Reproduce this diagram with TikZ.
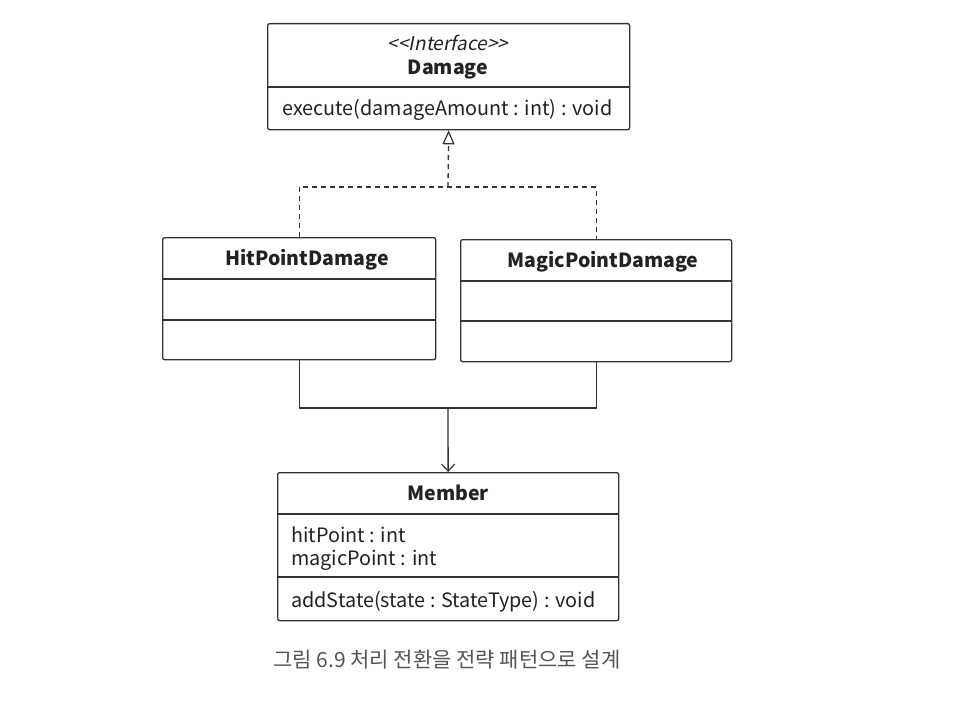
\documentclass[tikz,border=0pt]{standalone}
\usepackage{fontspec}
\setmainfont{Noto Sans CJK KR}[ItalicFont={Noto Sans CJK KR},ItalicFeatures={FakeSlant=0.2}]
\usetikzlibrary{arrows.meta}
\definecolor{linec}{HTML}{333333}
\definecolor{txt}{HTML}{222222}
\definecolor{capc}{HTML}{555555}
\begin{document}
\begin{tikzpicture}[x=1pt,y=-1pt,
  box/.style={draw=linec, line width=1.3pt, rounded corners=2pt, inner sep=0pt, anchor=north west, fill=white},
  sep/.style={draw=linec, line width=1.2pt},
  title/.style={font=\fontsize{19.5}{22}\selectfont\bfseries, text=txt, inner sep=0pt, anchor=base},
  stereo/.style={font=\fontsize{19}{22}\selectfont\itshape, text=txt, inner sep=0pt, anchor=base},
  member/.style={font=\fontsize{19.8}{22}\selectfont, text=txt, inner sep=0pt, anchor=base west},
  conn/.style={draw=linec, line width=1.3pt},
  dashconn/.style={conn, dash pattern=on 5pt off 4pt}
]
\useasboundingbox[fill=white] (0,0) rectangle (976,706);

% Damage interface
\node[box, minimum width=362pt, minimum height=106pt] (dmg) at (267,23) {};
\draw[sep] (dmg.west |- 0,87) -- (dmg.east |- 0,87);
\node[stereo] (dmgst) at (448,51) {<\kern0pt<Interface>\kern0pt>};
\node[title] (dmgt) at (448,75) {Damage};
\node[member] (dmgm) at (282,116) {execute(damageAmount : int) : void};

% HitPointDamage
\node[box, minimum width=273pt, minimum height=122pt] (hpd) at (162,237) {};
\draw[sep] (hpd.west |- 0,279) -- (hpd.east |- 0,279);
\draw[sep] (hpd.west |- 0,320) -- (hpd.east |- 0,320);
\node[title] (hpdt) at (307,265) {HitPointDamage};

% MagicPointDamage
\node[box, minimum width=271pt, minimum height=122pt] (mpd) at (460,239) {};
\draw[sep] (mpd.west |- 0,281) -- (mpd.east |- 0,281);
\draw[sep] (mpd.west |- 0,321) -- (mpd.east |- 0,321);
\node[title] (mpdt) at (603,267) {MagicPointDamage};

% Member
\node[box, minimum width=341pt, minimum height=148pt] (mem) at (277,472) {};
\draw[sep] (mem.west |- 0,514) -- (mem.east |- 0,514);
\draw[sep] (mem.west |- 0,577) -- (mem.east |- 0,577);
\node[title] (memt) at (448,500) {Member};
\node[member] (mema) at (291,542) {hitPoint : int};
\node[member] (memb) at (291,565) {magicPoint : int};
\node[member] (memc) at (291,607) {addState(state : StateType) : void};

% connectors
\coordinate (j1) at (448,187);
\coordinate (j2) at (448,408);
\draw[dashconn] (hpd.north) |- (j1) -| (mpd.north);
\draw[dashconn, -{Triangle[open, length=14pt, width=12pt, line width=1.2pt]}] (j1) -- (dmg.south);
\draw[conn] (hpd.south) |- (j2) -| (mpd.south);
\draw[conn, -{Straight Barb[length=7pt, width=13pt, line width=1.2pt]}] (j2) -- (mem.north);

% caption
\node[font=\fontsize{21}{24}\selectfont, text=capc, inner sep=0pt] (cap) at (447,660) {그림 6.9 처리 전환을 전략 패턴으로 설계};
\end{tikzpicture}
\end{document}
